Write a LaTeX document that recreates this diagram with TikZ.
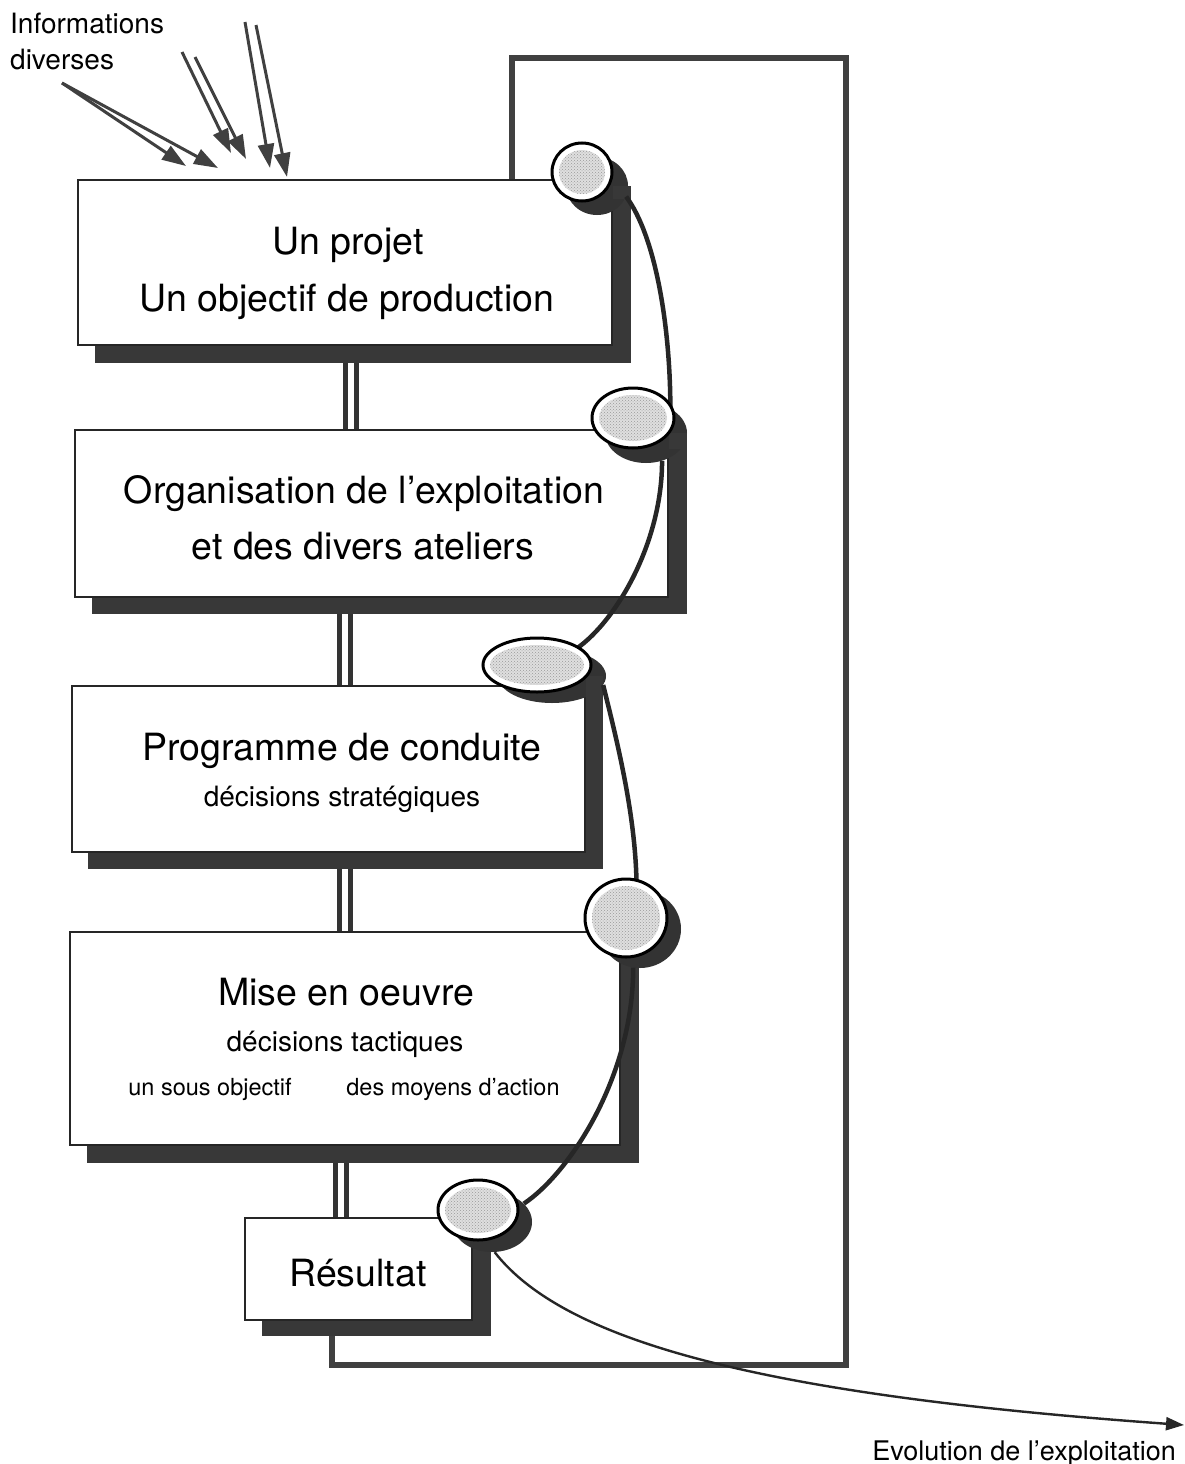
\documentclass[tikz,border=0pt]{standalone}
\usepackage{fontspec}
\setmainfont{TeX Gyre Heros}
\usetikzlibrary{arrows.meta,shapes.geometric,patterns,calc}
\pgfdeclarelayer{bg}
\pgfsetlayers{bg,main}
\begin{document}
\begin{tikzpicture}[x=1pt,y=-1pt,
  boxst/.style={rectangle, draw=black!85, line width=2.4pt, fill=white, inner sep=0pt},
  shadowst/.style={fill=black!78},
  dbl/.style={draw=black!80, line width=5pt, double=white, double distance=6pt},
  framest/.style={draw=black!75, line width=6.5pt, line join=miter},
  curvest/.style={draw=black!85, line width=4.5pt},
  thincurve/.style={draw=black!85, line width=2.4pt, -{Triangle[length=18pt,width=13pt]}},
  infoarrow/.style={draw=black!75, line width=3pt, -{Triangle[length=24pt,width=16pt]}},
  diskface/.style={ellipse, draw=black, line width=3pt, fill=white, inner sep=0pt},
  disktex/.style={ellipse, inner sep=0pt, preaction={fill=gray!25}, pattern=crosshatch dots, pattern color=gray!80},
  diskshadow/.style={ellipse, fill=black!80, inner sep=0pt},
  bigt/.style={font=\fontsize{37.5}{44}\selectfont, anchor=base, inner sep=0pt},
  medt/.style={font=\fontsize{28}{34}\selectfont, anchor=base, inner sep=0pt},
  smallt/.style={font=\fontsize{23.5}{28}\selectfont, anchor=base, inner sep=0pt},
]
\useasboundingbox (0,0) rectangle (1185,1464);

% boxes
\node[boxst, minimum width=534pt, minimum height=165pt] (b1) at (345,262.5) {};
\node[boxst, minimum width=593pt, minimum height=167pt] (b2) at (371.5,513.5) {};
\node[boxst, minimum width=513pt, minimum height=166pt] (b3) at (328.5,769) {};
\node[boxst, minimum width=550pt, minimum height=213pt] (b4) at (345,1038.5) {};
\node[boxst, minimum width=227pt, minimum height=102pt] (b5) at (358.5,1269) {};

\begin{pgfonlayer}{bg}
  % feedback frame
  \coordinate (f1) at (512,190);
  \coordinate (f2) at (332,1330);
  \draw[framest] (f1) -- (512,58) -- (846,58) -- (846,1365) -- (332,1365) -- (f2);
  % double connectors
  \coordinate (c12) at ([xshift=6pt]b1.south);
  \coordinate (c23) at ([xshift=-26.5pt]b2.south);
  \coordinate (c34) at ([xshift=16.5pt]b3.south);
  \coordinate (c45) at ([xshift=-4pt]b4.south);
  \draw[dbl] (c12) -- (c12 |- b2.north);
  \draw[dbl] (c23) -- (c23 |- b3.north);
  \draw[dbl] (c34) -- (c34 |- b4.north);
  \draw[dbl] (c45) -- (c45 |- b5.north);
  % shadows
  \fill[shadowst] ([shift={(18,17)}]b1.north west) rectangle ([shift={(18,17)}]b1.south east);
  \fill[shadowst] ([shift={(18,16)}]b2.north west) rectangle ([shift={(18,16)}]b2.south east);
  \fill[shadowst] ([shift={(17,16)}]b3.north west) rectangle ([shift={(17,16)}]b3.south east);
  \fill[shadowst] ([shift={(18,17)}]b4.north west) rectangle ([shift={(18,17)}]b4.south east);
  \fill[shadowst] ([shift={(18,15)}]b5.north west) rectangle ([shift={(18,15)}]b5.south east);
\end{pgfonlayer}

% texts
\node[bigt] (t1a) at (348,254) {Un projet};
\node[bigt] (t1b) at (347,311) {Un objectif de production};
\node[bigt] (t2a) at (364,503) {Organisation de l’exploitation};
\node[bigt] (t2b) at (363,559) {et des divers ateliers};
\node[bigt] (t3a) at (342,760) {Programme de conduite};
\node[medt] (t3b) at (342,806) {décisions stratégiques};
\node[bigt] (t4a) at (346,1005) {Mise en oeuvre};
\node[medt] (t4b) at (345,1051) {décisions tactiques};
\node[smallt] (t4c) at (210,1095) {un sous objectif};
\node[smallt] (t4d) at (453,1095) {des moyens d’action};
\node[bigt] (t5) at (358,1286) {Résultat};
\node[medt, anchor=base west] (info1) at (10,34) {Informations};
\node[medt, anchor=base west] (info2) at (10,70) {diverses};
\node[font=\fontsize{27}{32}\selectfont, anchor=base east, inner sep=0pt] (evo) at (1176,1460) {Evolution de l’exploitation};

% information arrows
\coordinate (ia0) at (62,83);
\coordinate (ia1) at (186,166);
\coordinate (ia2) at (218,168);
\coordinate (ib0) at (182,52);
\coordinate (ib1) at (231,153);
\coordinate (ib0b) at (195,57);
\coordinate (ib2) at (246,159);
\coordinate (ic0) at (245,22);
\coordinate (ic1) at (270,168);
\coordinate (ic0b) at (256,25);
\coordinate (ic2) at (287,177);
\draw[infoarrow] (ia0) -- (ia1);
\draw[infoarrow] (ia0) -- (ia2);
\draw[infoarrow] (ib0) -- (ib1);
\draw[infoarrow] (ib0b) -- (ib2);
\draw[infoarrow] (ic0) -- (ic1);
\draw[infoarrow] (ic0b) -- (ic2);

% disk shadows
\node[diskshadow, minimum width=62pt, minimum height=58pt] (s1) at (597,186) {};
\node[diskshadow, minimum width=82pt, minimum height=60pt] (s2) at (646,433) {};
\node[diskshadow, minimum width=108pt, minimum height=54pt] (s3) at (552,676) {};
\node[diskshadow, minimum width=82pt, minimum height=78pt] (s4) at (640,929) {};
\node[diskshadow, minimum width=80pt, minimum height=60pt] (s5) at (492,1222) {};
% stems joining disk shadows to box shadows
\fill[shadowst] (b1.north east |- s1.center) rectangle ([shift={(18,20)}]b1.north east);
\fill[shadowst] (b2.north east |- s2.center) rectangle ([shift={(18,20)}]b2.north east);
\fill[shadowst] (b3.north east |- s3.center) rectangle ([shift={(17,20)}]b3.north east);
\fill[shadowst] (b4.north east |- s4.center) rectangle ([shift={(18,20)}]b4.north east);
\fill[shadowst] (b5.north east |- s5.center) rectangle ([shift={(18,20)}]b5.north east);

% curves
\draw[curvest] (s1.-20) .. controls +(30,40) and +(0,-80) .. (s2.45);
\draw[curvest] (s2.-60) .. controls +(0,85) and +(40,-25) .. (s3.50);
\draw[curvest] (s3.-10) .. controls +(15,60) and +(0,-70) .. (s4.95);
\draw[curvest] (s4.-100) .. controls +(0,110) and +(45,-30) .. (s5.30);
\coordinate (evotip) at (1184,1425);
\draw[thincurve] (s5.-85) .. controls +(70,90) and +(-420,-30) .. (evotip);

% disk faces
\node[diskface, minimum width=60pt, minimum height=58pt] (d1) at (582,172) {};
\node[diskface, minimum width=82pt, minimum height=60pt] (d2) at (633,418) {};
\node[diskface, minimum width=108pt, minimum height=54pt] (d3) at (537,665) {};
\node[diskface, minimum width=82pt, minimum height=78pt] (d4) at (626,918) {};
\node[diskface, minimum width=80pt, minimum height=60pt] (d5) at (478,1210) {};
\node[disktex, minimum width=46pt, minimum height=44pt] (x1) at (d1) {};
\node[disktex, minimum width=68pt, minimum height=46pt] (x2) at (d2) {};
\node[disktex, minimum width=94pt, minimum height=40pt] (x3) at (d3) {};
\node[disktex, minimum width=68pt, minimum height=64pt] (x4) at (d4) {};
\node[disktex, minimum width=66pt, minimum height=46pt] (x5) at (d5) {};
\end{tikzpicture}
\end{document}
